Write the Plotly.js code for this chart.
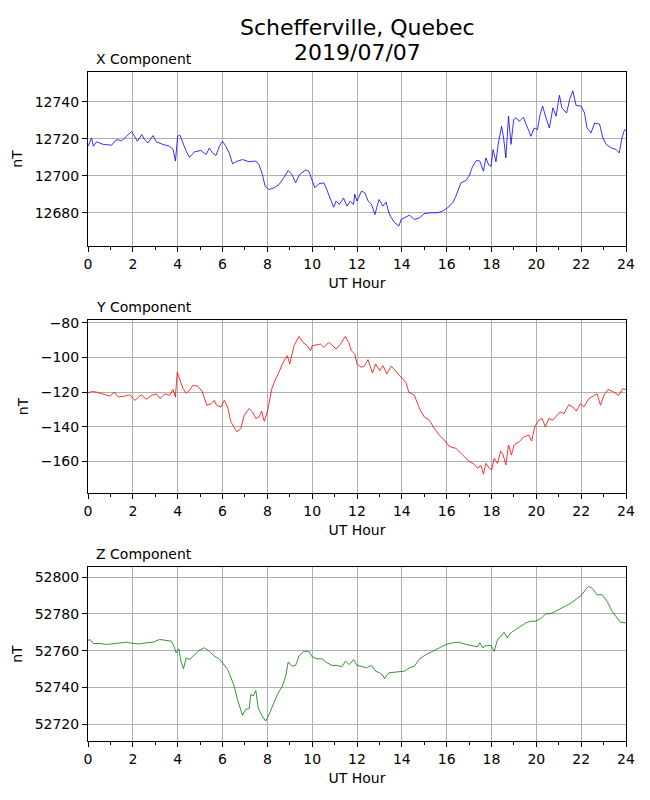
<!DOCTYPE html>
<html>
<head>
<meta charset="utf-8">
<script src="https://cdn.plot.ly/plotly-3.0.1.min.js"></script>
<style>
  body { margin: 0; background: #fff; }
  #plotDiv { width: 650px; height: 800px; }
</style>
</head>
<body>
<div id="plotDiv"></div>
<script>
// Readings, hour of day -> nT
const xHours = [0, 0.16, 0.24, 0.38, 0.68, 1.05, 1.27, 1.5, 1.72, 1.94, 2.0, 2.2, 2.4, 2.53, 2.68, 2.9, 3.05, 3.34, 3.64, 3.8, 3.9, 4.0, 4.1, 4.26, 4.38, 4.53, 4.75, 5.04, 5.27, 5.41, 5.56, 5.71, 5.86, 6.0, 6.15, 6.3, 6.45, 6.67, 6.9, 7.19, 7.49, 7.63, 7.78, 7.9, 8.07, 8.3, 8.52, 8.74, 8.93, 9.1, 9.26, 9.44, 9.7, 9.85, 10.0, 10.12, 10.3, 10.52, 10.62, 10.81, 10.96, 11.07, 11.21, 11.4, 11.55, 11.7, 11.85, 11.9, 12.0, 12.2, 12.35, 12.5, 12.65, 12.8, 12.98, 13.16, 13.3, 13.42, 13.53, 13.68, 13.87, 13.97, 14.12, 14.34, 14.56, 14.79, 15.0, 15.3, 15.6, 15.82, 16.04, 16.27, 16.41, 16.64, 16.86, 17.0, 17.16, 17.33, 17.48, 17.64, 17.75, 17.87, 17.98, 18.07, 18.2, 18.3, 18.45, 18.54, 18.64, 18.76, 18.87, 18.99, 19.1, 19.24, 19.42, 19.54, 19.76, 19.9, 20.05, 20.17, 20.28, 20.43, 20.58, 20.74, 20.88, 21.03, 21.14, 21.35, 21.5, 21.63, 21.77, 22.0, 22.15, 22.26, 22.44, 22.6, 22.82, 22.97, 23.12, 23.34, 23.56, 23.7, 23.82, 23.93, 24.0];
const xVals = [12716, 12720.5, 12716, 12718.4, 12717, 12716.6, 12719.6, 12719, 12721.4, 12724, 12723, 12718.7, 12722.3, 12719.6, 12717.8, 12721.8, 12718.4, 12717, 12716, 12714.2, 12708, 12721.4, 12722, 12717, 12713.3, 12710, 12713, 12713.7, 12711.5, 12715, 12712.4, 12711, 12716, 12718.7, 12716, 12712.4, 12706.5, 12708, 12708.8, 12707.6, 12708, 12706, 12700.7, 12694.4, 12692.6, 12693.5, 12695.3, 12699, 12702.9, 12700.7, 12696.2, 12700.7, 12703.2, 12702.5, 12698, 12693.5, 12695.7, 12696.2, 12693.5, 12688, 12683, 12686.3, 12684.5, 12688, 12683.6, 12686.3, 12684.5, 12690, 12686.3, 12691.7, 12690.8, 12686.3, 12684.5, 12679, 12687.2, 12683.6, 12685.8, 12680, 12677.3, 12674.6, 12672.8, 12676.4, 12677.3, 12678.7, 12676.4, 12677.3, 12679.5, 12680, 12680, 12680.9, 12682.7, 12685.4, 12689, 12696.2, 12697.5, 12699.8, 12705.2, 12708.3, 12708, 12702.5, 12709.7, 12706, 12705.2, 12714.2, 12707.6, 12717.3, 12726.8, 12720.5, 12709.7, 12732.3, 12717, 12730.5, 12731.4, 12729.5, 12731.7, 12727.7, 12721.4, 12725.9, 12725, 12733.2, 12737.7, 12731.4, 12725.9, 12736.8, 12732.3, 12743.6, 12736.8, 12734, 12742, 12746, 12738.2, 12737.7, 12734, 12725.9, 12723.2, 12728.6, 12728, 12720.5, 12717, 12715.1, 12714.2, 12712.4, 12720.5, 12724.9, 12724.7];

const yHours = [0, 0.16, 0.38, 0.68, 0.98, 1.17, 1.35, 1.64, 1.86, 2.09, 2.38, 2.6, 2.83, 3.05, 3.22, 3.42, 3.64, 3.79, 3.9, 3.98, 4.08, 4.23, 4.38, 4.53, 4.67, 4.9, 5.09, 5.3, 5.49, 5.63, 5.74, 5.93, 6.08, 6.23, 6.37, 6.52, 6.64, 6.82, 6.97, 7.19, 7.34, 7.49, 7.63, 7.75, 7.86, 8.0, 8.2, 8.37, 8.52, 8.67, 8.89, 9.0, 9.19, 9.41, 9.59, 9.78, 9.93, 10.0, 10.18, 10.37, 10.52, 10.74, 10.89, 11.07, 11.26, 11.48, 11.63, 11.75, 11.9, 12.0, 12.19, 12.34, 12.49, 12.69, 12.83, 13.01, 13.16, 13.33, 13.53, 13.75, 13.9, 14.04, 14.19, 14.31, 14.56, 14.79, 15.0, 15.23, 15.45, 15.67, 15.9, 16.12, 16.41, 16.71, 17.01, 17.23, 17.38, 17.53, 17.64, 17.75, 17.9, 18.01, 18.12, 18.27, 18.41, 18.52, 18.64, 18.76, 18.89, 19.01, 19.23, 19.45, 19.67, 19.79, 19.93, 20.11, 20.26, 20.4, 20.56, 20.73, 20.93, 21.07, 21.23, 21.45, 21.63, 21.78, 21.97, 22.12, 22.34, 22.56, 22.71, 22.86, 23.01, 23.2, 23.45, 23.67, 23.85, 24.0];
const yVals = [-120.6, -119.6, -120, -121.1, -122.3, -120, -122.9, -122.3, -121.5, -124.8, -121.5, -124.2, -121.9, -121, -123.8, -121, -121.9, -118.5, -122.9, -108.6, -112.4, -117.7, -120.6, -119, -116.2, -116.6, -119.6, -127.6, -126.7, -124.8, -127.6, -128.6, -124.8, -128.6, -137.1, -140, -142.9, -141, -133.3, -129.5, -131.4, -135.2, -134.3, -131, -136.8, -131.4, -118.1, -112.4, -108.6, -103.8, -99, -103.8, -93.3, -88, -91.4, -93.3, -96.2, -93.3, -93, -92.4, -94.3, -91.4, -93, -95.2, -92.4, -88, -91.4, -96.2, -98.1, -103.8, -105.7, -104.8, -101.3, -109, -103.8, -107.6, -104.8, -109.5, -105.1, -108.6, -110.5, -112.4, -114.7, -120, -121.9, -129.5, -134.3, -136.2, -141, -144.8, -147.6, -151.4, -152.4, -156.2, -160, -161.5, -163.8, -162.3, -167.2, -161, -163.8, -164.8, -158.1, -161, -153.9, -156.2, -161.9, -150.5, -156.2, -150.5, -148.6, -145.7, -144.8, -148.2, -140, -136.2, -135.2, -140, -135.2, -136.2, -133.3, -131.4, -132.4, -127.2, -128.6, -130.9, -126.7, -128.6, -123.8, -121.9, -121, -127.6, -121.9, -118.5, -120, -121.9, -118.1, -118.5];

const zHours = [0, 0.09, 0.24, 0.53, 0.83, 1.12, 1.42, 1.72, 2.01, 2.31, 2.6, 2.9, 3.2, 3.49, 3.71, 3.83, 3.93, 4.05, 4.15, 4.26, 4.38, 4.53, 4.75, 4.97, 5.19, 5.41, 5.64, 5.79, 6.0, 6.23, 6.38, 6.52, 6.67, 6.89, 7.04, 7.19, 7.26, 7.37, 7.49, 7.59, 7.75, 7.93, 8.08, 8.22, 8.45, 8.67, 8.82, 8.93, 9.11, 9.26, 9.41, 9.63, 9.85, 10.0, 10.22, 10.44, 10.67, 10.89, 11.12, 11.33, 11.48, 11.66, 11.85, 12.0, 12.19, 12.41, 12.64, 12.83, 13.01, 13.16, 13.23, 13.42, 13.67, 13.9, 14.12, 14.34, 14.56, 14.79, 15.08, 15.38, 15.67, 15.97, 16.27, 16.56, 16.86, 17.16, 17.38, 17.48, 17.61, 17.75, 17.98, 18.12, 18.27, 18.41, 18.56, 18.7, 18.86, 19.08, 19.3, 19.53, 19.75, 19.96, 20.19, 20.41, 20.64, 20.86, 21.16, 21.38, 21.6, 21.82, 22.04, 22.19, 22.33, 22.48, 22.7, 22.93, 23.16, 23.38, 23.6, 23.75, 24.0];
const zVals = [52765.5, 52766.1, 52763.9, 52763.9, 52763.4, 52763.9, 52764.3, 52764.6, 52763.9, 52763.7, 52764.3, 52764.6, 52766.1, 52765.5, 52765.2, 52762.5, 52758.8, 52761, 52754.3, 52750.2, 52756.1, 52755.2, 52757.9, 52760.3, 52761.6, 52759.7, 52757, 52756.1, 52753.4, 52749.8, 52745.3, 52740.8, 52733.6, 52724.9, 52728.2, 52728.5, 52736.3, 52735.4, 52738.4, 52729.1, 52724.9, 52721.8, 52725.5, 52730, 52736.3, 52740.8, 52746.2, 52753.8, 52751.6, 52752, 52757, 52759.7, 52759.7, 52756.7, 52755.6, 52755.6, 52753.4, 52752, 52752, 52751.3, 52754.3, 52752.5, 52755.2, 52752, 52751.6, 52750.7, 52752, 52748.9, 52748, 52746.6, 52744.8, 52748, 52748.4, 52748.4, 52748.9, 52750.7, 52751.6, 52755.6, 52757.9, 52759.7, 52761.6, 52763.4, 52764.3, 52764.6, 52763.4, 52762.8, 52762.1, 52764.3, 52761.6, 52762.8, 52762.8, 52759.7, 52766.1, 52767.5, 52770, 52767, 52769.7, 52771.5, 52773.3, 52775.1, 52776, 52776, 52777.3, 52780, 52780.1, 52781.4, 52783.6, 52784.7, 52786.3, 52788.6, 52790.4, 52793.1, 52794.9, 52794, 52790.4, 52790.4, 52786.8, 52781.4, 52777.8, 52775.5, 52775.1];

const titleLines = ["Schefferville, Quebec", "2019/07/07"];
const componentNames = ["X Component", "Y Component", "Z Component"];
const lineColors = ["blue", "red", "green"];
const yRanges = [[12662, 12756.2], [-178.1, -78.5], [52711, 52805.4]];
const yTicks = [[12680, 12700, 12720, 12740], [-160, -140, -120, -100, -80], [52720, 52740, 52760, 52780, 52800]];

const hours = [xHours, yHours, zHours];
const values = [xVals, yVals, zVals];

const fontFamily = "DejaVu Sans, sans-serif";
const domains = [[0.7399, 1.0], [0.3707, 0.6293], [0, 0.26]];

let traces = [];
let layout = {
  width: 650,
  height: 800,
  margin: { l: 88, r: 24, t: 72, b: 59 },
  paper_bgcolor: "white",
  plot_bgcolor: "white",
  showlegend: false,
  font: { family: fontFamily, size: 14, color: "black" },
  annotations: [],
};

// two title lines, placed separately to get the tighter line spacing
titleLines.forEach(function (line, k) {
  layout.annotations.push({
    text: line,
    xref: "paper", yref: "paper", x: 0.5, y: 1, yshift: k === 0 ? 45 : 20,
    xanchor: "center", yanchor: "middle", showarrow: false,
    font: { family: fontFamily, size: 22, color: "black" },
  });
});

for (let i = 0; i < 3; i++) {
  let suffix = i === 0 ? "" : String(i + 1);
  traces.push({
    x: hours[i],
    y: values[i],
    mode: "lines",
    type: "scatter",
    line: { color: lineColors[i], width: 0.8 },
    xaxis: "x" + suffix,
    yaxis: "y" + suffix,
    hoverinfo: "skip",
  });

  layout["xaxis" + suffix] = {
    domain: [0, 1],
    anchor: "y" + suffix,
    range: [0, 24],
    tickvals: [0, 2, 4, 6, 8, 10, 12, 14, 16, 18, 20, 22, 24],
    ticks: "outside",
    ticklen: 5,
    tickwidth: 1,
    tickcolor: "black",
    minor: { dtick: 1, ticks: "outside", ticklen: 3, tickcolor: "black", showgrid: false },
    showgrid: true,
    gridcolor: "#b0b0b0",
    gridwidth: 1,
    zeroline: false,
    showline: true,
    linecolor: "black",
    linewidth: 1,
    mirror: true,
    title: { text: "UT Hour", font: { size: 14 }, standoff: 7 },
  };
  layout["yaxis" + suffix] = {
    domain: domains[i],
    anchor: "x" + suffix,
    range: yRanges[i],
    tickvals: yTicks[i],
    tickformat: "d",
    ticks: "outside",
    ticklen: 5,
    tickwidth: 1,
    tickcolor: "black",
    showgrid: true,
    gridcolor: "#b0b0b0",
    gridwidth: 1,
    zeroline: false,
    showline: true,
    linecolor: "black",
    linewidth: 1,
    mirror: true,
    title: { text: "nT", font: { size: 14 }, standoff: 8 },
  };

  layout.annotations.push({
    text: componentNames[i],
    xref: "paper", yref: "paper", x: 0, xshift: 6, y: domains[i][1], yshift: 3,
    xanchor: "left", yanchor: "bottom", showarrow: false,
    font: { family: fontFamily, size: 14, color: "black" },
  });
}

Plotly.newPlot("plotDiv", traces, layout, { displayModeBar: false, staticPlot: true });
</script>
</body>
</html>
